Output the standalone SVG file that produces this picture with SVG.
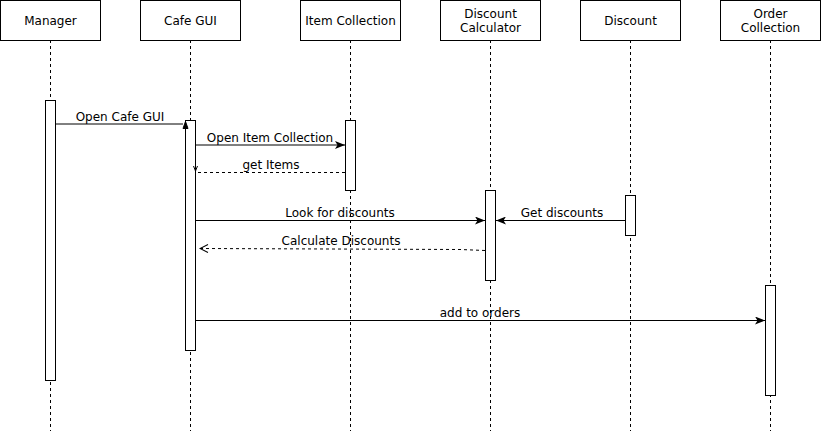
<svg xmlns="http://www.w3.org/2000/svg" width="821" height="431" viewBox="0 0 821 431">
<style>
.box{fill:#fff;stroke:#000;stroke-width:1}
.life{stroke:#000;stroke-width:1;stroke-dasharray:3 3;fill:none}
.act{fill:#fff;stroke:#000;stroke-width:1}
.t{font-family:"DejaVu Sans",Verdana,sans-serif;font-size:12px;fill:#000;text-anchor:middle}
.msg{stroke:#000;stroke-width:1;fill:none}
.ret{stroke:#000;stroke-width:1;fill:none;stroke-dasharray:3 3}
.head{fill:#000;stroke:#000;stroke-width:1}
.open{fill:none;stroke:#000;stroke-width:1}
</style>
<defs>
<marker id="fill" viewBox="0 0 10 8" refX="10" refY="4" markerWidth="10" markerHeight="8" markerUnits="userSpaceOnUse" orient="auto">
<path d="M0,0 L10,4 L0,8 L2.5,4 Z" fill="#000"/>
</marker>
<marker id="openArr" viewBox="0 0 10 10" refX="9" refY="5" markerWidth="10" markerHeight="10" markerUnits="userSpaceOnUse" orient="auto">
<path d="M1,1 L9,5 L1,9" fill="none" stroke="#000" stroke-width="1"/>
</marker>
</defs>
<rect width="821" height="431" fill="#fff"/>
<g id="lifelines">
<line class="life" x1="50.5" y1="40" x2="50.5" y2="431"/>
<line class="life" x1="190.5" y1="40" x2="190.5" y2="431"/>
<line class="life" x1="350.5" y1="40" x2="350.5" y2="431"/>
<line class="life" x1="490.5" y1="40" x2="490.5" y2="431"/>
<line class="life" x1="630.5" y1="40" x2="630.5" y2="431"/>
<line class="life" x1="770.5" y1="40" x2="770.5" y2="431"/>
</g>
<g id="manager">
<rect class="box" x="0.5" y="0.5" width="100" height="40"/>
<text class="t" x="50.5" y="25">Manager</text>
<rect class="act" x="45.5" y="100.5" width="10" height="280"/>
</g>
<g id="cafe-gui">
<rect class="box" x="140.5" y="0.5" width="100" height="40"/>
<text class="t" x="190.5" y="25">Cafe GUI</text>
<rect class="act" x="185.5" y="120.5" width="10" height="230"/>
</g>
<g id="item-collection">
<rect class="box" x="300.5" y="0.5" width="100" height="40"/>
<text class="t" x="350.5" y="25">Item Collection</text>
<rect class="act" x="345.5" y="120.5" width="10" height="70"/>
</g>
<g id="discount-calculator">
<rect class="box" x="440.5" y="0.5" width="100" height="40"/>
<text class="t" x="490.5" y="18">Discount</text>
<text class="t" x="490.5" y="32">Calculator</text>
<rect class="act" x="485.5" y="190.5" width="10" height="90"/>
</g>
<g id="discount">
<rect class="box" x="580.5" y="0.5" width="100" height="40"/>
<text class="t" x="630.5" y="25">Discount</text>
<rect class="act" x="625.5" y="195.5" width="10" height="40"/>
</g>
<g id="order-collection">
<rect class="box" x="720.5" y="0.5" width="100" height="40"/>
<text class="t" x="770.5" y="18">Order</text>
<text class="t" x="770.5" y="32">Collection</text>
<rect class="act" x="765.5" y="285.5" width="10" height="110"/>
</g>
<g id="connectors">
<path class="msg" d="M55.5,124 L183,124" stroke="#444"/>
<path class="head" d="M183,128.5 L188,128.5 L185.5,121.5 Z"/>
<text class="t" x="120" y="121">Open Cafe GUI</text>

<path class="msg" d="M195.5,145 L345,145" marker-end="url(#fill)" stroke="#444"/>
<text class="t" x="270" y="142">Open Item Collection</text>

<path class="ret" d="M345,172.5 L198,172.5"/>
<path class="open" d="M193.5,166 L195.5,171 L197.5,166"/>
<text class="t" x="271" y="169">get Items</text>

<path class="msg" d="M195.5,220.5 L485,220.5" marker-end="url(#fill)"/>
<text class="t" x="340" y="217">Look for discounts</text>

<path class="msg" d="M625.5,220.5 L496,220.5" marker-end="url(#fill)"/>
<text class="t" x="562" y="217">Get discounts</text>

<path class="ret" d="M485,250.5 L460,249.5 L200,248.5" marker-end="url(#openArr)"/>
<text class="t" x="341" y="245">Calculate Discounts</text>

<path class="msg" d="M195.5,320.5 L765,320.5" marker-end="url(#fill)"/>
<text class="t" x="480" y="317">add to orders</text>
</g>
</svg>
